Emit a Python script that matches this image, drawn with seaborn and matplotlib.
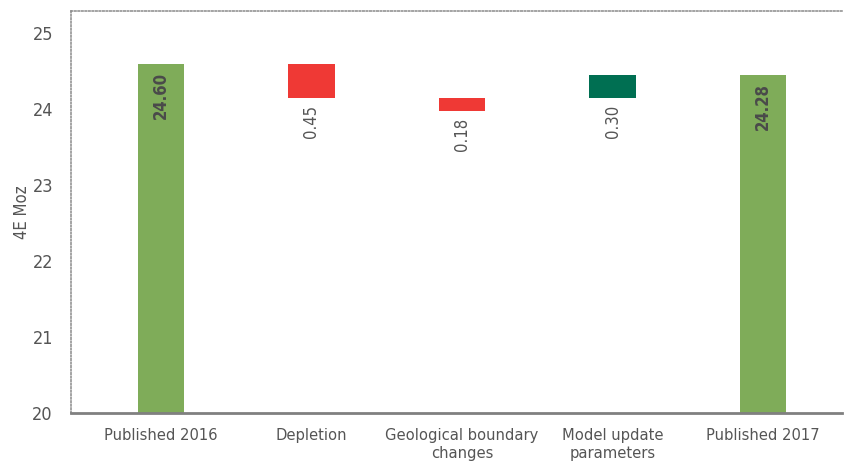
import matplotlib
matplotlib.use("Agg")
import matplotlib.pyplot as plt
import seaborn as sns
import pandas as pd

categories = ["Published 2016", "Depletion", "Geological boundary\nchanges",
              "Model update\nparameters", "Published 2017"]
bar_bottoms = [20.0, 24.15, 23.97, 24.15, 20.0]
bar_tops = [24.60, 24.60, 24.15, 24.45, 24.45]
value_labels = ["24.60", "0.45", "0.18", "0.30", "24.28"]
is_total = [True, False, False, False, True]
bar_colors = ["#7FAC59", "#EF3935", "#EF3935", "#006F52", "#7FAC59"]

sns.set_theme(style="white")
plt.rcParams["font.family"] = ["DejaVu Sans"]
plt.rcParams["font.stretch"] = "condensed"

df = pd.DataFrame({
    "cat": categories,
    "height": [t - b for t, b in zip(bar_tops, bar_bottoms)],
    "bottom": bar_bottoms,
})

fig = plt.figure(figsize=(8.45, 4.65), dpi=100)
ax = fig.add_axes([0.084, 0.112, 0.9125, 0.864])
sns.barplot(data=df, x="cat", y="height", bottom=df["bottom"].values,
            color="#7FAC59", width=0.306, saturation=1, ax=ax)
for p, c in zip(ax.patches, bar_colors):
    p.set_facecolor(c)
    p.set_edgecolor("none")

ax.set_ylim(20, 25.29)
ax.set_xlim(-0.598, 4.525)
ax.set_yticks([20, 21, 22, 23, 24, 25])
ax.tick_params(axis="y", length=0, pad=13, labelsize=13, labelcolor="#555555")
ax.tick_params(axis="x", length=0, pad=11, labelsize=11.8, labelcolor="#555555")
ax.set_xlabel("")
ax.set_ylabel("4E Moz", fontsize=12, color="#555555", labelpad=1)

for side in ["left", "top"]:
    ax.spines[side].set_visible(True)
    ax.spines[side].set_linestyle((0, (1, 1.3)))
    ax.spines[side].set_color("#8a8a8a")
    ax.spines[side].set_linewidth(1.1)
ax.spines["right"].set_visible(False)
ax.spines["bottom"].set_color("#808080")
ax.spines["bottom"].set_linewidth(2)

for i, (lab, tot) in enumerate(zip(value_labels, is_total)):
    if tot:
        ax.annotate(lab, (i, bar_tops[i]), xytext=(0, -6), textcoords="offset points",
                    rotation=90, ha="center", va="top", fontsize=12,
                    color="#4a4a4a", fontweight="bold")
    else:
        ax.annotate(lab, (i, bar_bottoms[i]), xytext=(0, -5), textcoords="offset points",
                    rotation=90, ha="center", va="top", fontsize=12,
                    color="#555555")

fig.savefig("out.png", dpi=100)
